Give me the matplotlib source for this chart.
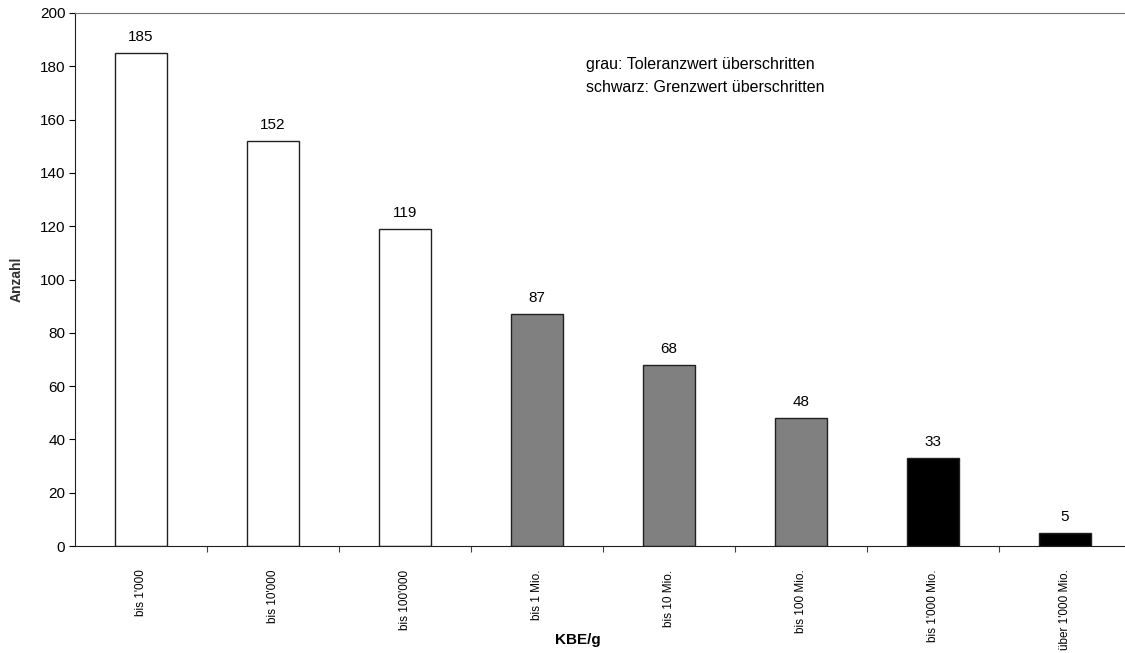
import matplotlib.pyplot as plt

plt.rcParams['font.family'] = ['Liberation Sans', 'DejaVu Sans']

# Keimzahlen pro Klasse
klassen = ["bis 1'000", "bis 10'000", "bis 100'000", "bis 1 Mio.",
           "bis 10 Mio.", "bis 100 Mio.", "bis 1'000 Mio.", "über 1'000 Mio."]
anzahl = [185, 152, 119, 87, 68, 48, 33, 5]
farben = ["white", "white", "white", "#808080", "#808080", "#808080", "black", "black"]


def plot_anzahl():
    fig = plt.figure(figsize=(11.25, 6.53), dpi=100)
    ax = fig.add_axes([75 / 1125, 107 / 653, 1056 / 1125, 533 / 653])

    x = list(range(len(klassen)))
    ax.bar(x, anzahl, width=0.4, color=farben, edgecolor="#202020", linewidth=1.0)
    for xi, wert in zip(x, anzahl):
        ax.annotate(str(wert), (xi, wert), xytext=(0, 11.5), textcoords="offset points",
                    ha="center", va="center", fontsize=11)

    ax.set_xlim(-0.5, len(klassen) - 0.5)
    ax.set_ylim(0, 200)
    ax.set_yticks(range(0, 201, 20))
    ax.tick_params(axis="y", labelsize=11, length=4, width=0.8, pad=3)

    # Striche zwischen den Klassen, Beschriftung in der Mitte
    ax.set_xticks([i + 0.5 for i in x[:-1]])
    ax.set_xticklabels([])
    ax.tick_params(axis="x", length=4, width=0.8, color="#404040")
    ax.set_xticks(x, minor=True)
    ax.set_xticklabels(klassen, minor=True, rotation=90, fontsize=8.5, va="top")
    ax.tick_params(axis="x", which="minor", length=0, pad=17)

    ax.spines["top"].set_color("#707070")
    ax.spines["left"].set_color("#202020")
    ax.spines["bottom"].set_color("#202020")

    fig.text(578 / 1125, 1 - 640 / 653, "KBE/g", fontsize=11, fontweight="bold",
             ha="center", va="center")
    fig.text(17 / 1125, 1 - 279 / 653, "Anzahl", rotation=90, fontsize=10,
             fontweight="bold", ha="center", va="center", color="#303030")

    fig.text(586 / 1125, 1 - 65 / 653, "grau: Toleranzwert überschritten",
             fontsize=11.5, va="center")
    fig.text(586 / 1125, 1 - 87 / 653, "schwarz: Grenzwert überschritten",
             fontsize=11.5, va="center")

    fig.savefig("out.png", dpi=100)


if __name__ == "__main__":
    plot_anzahl()
